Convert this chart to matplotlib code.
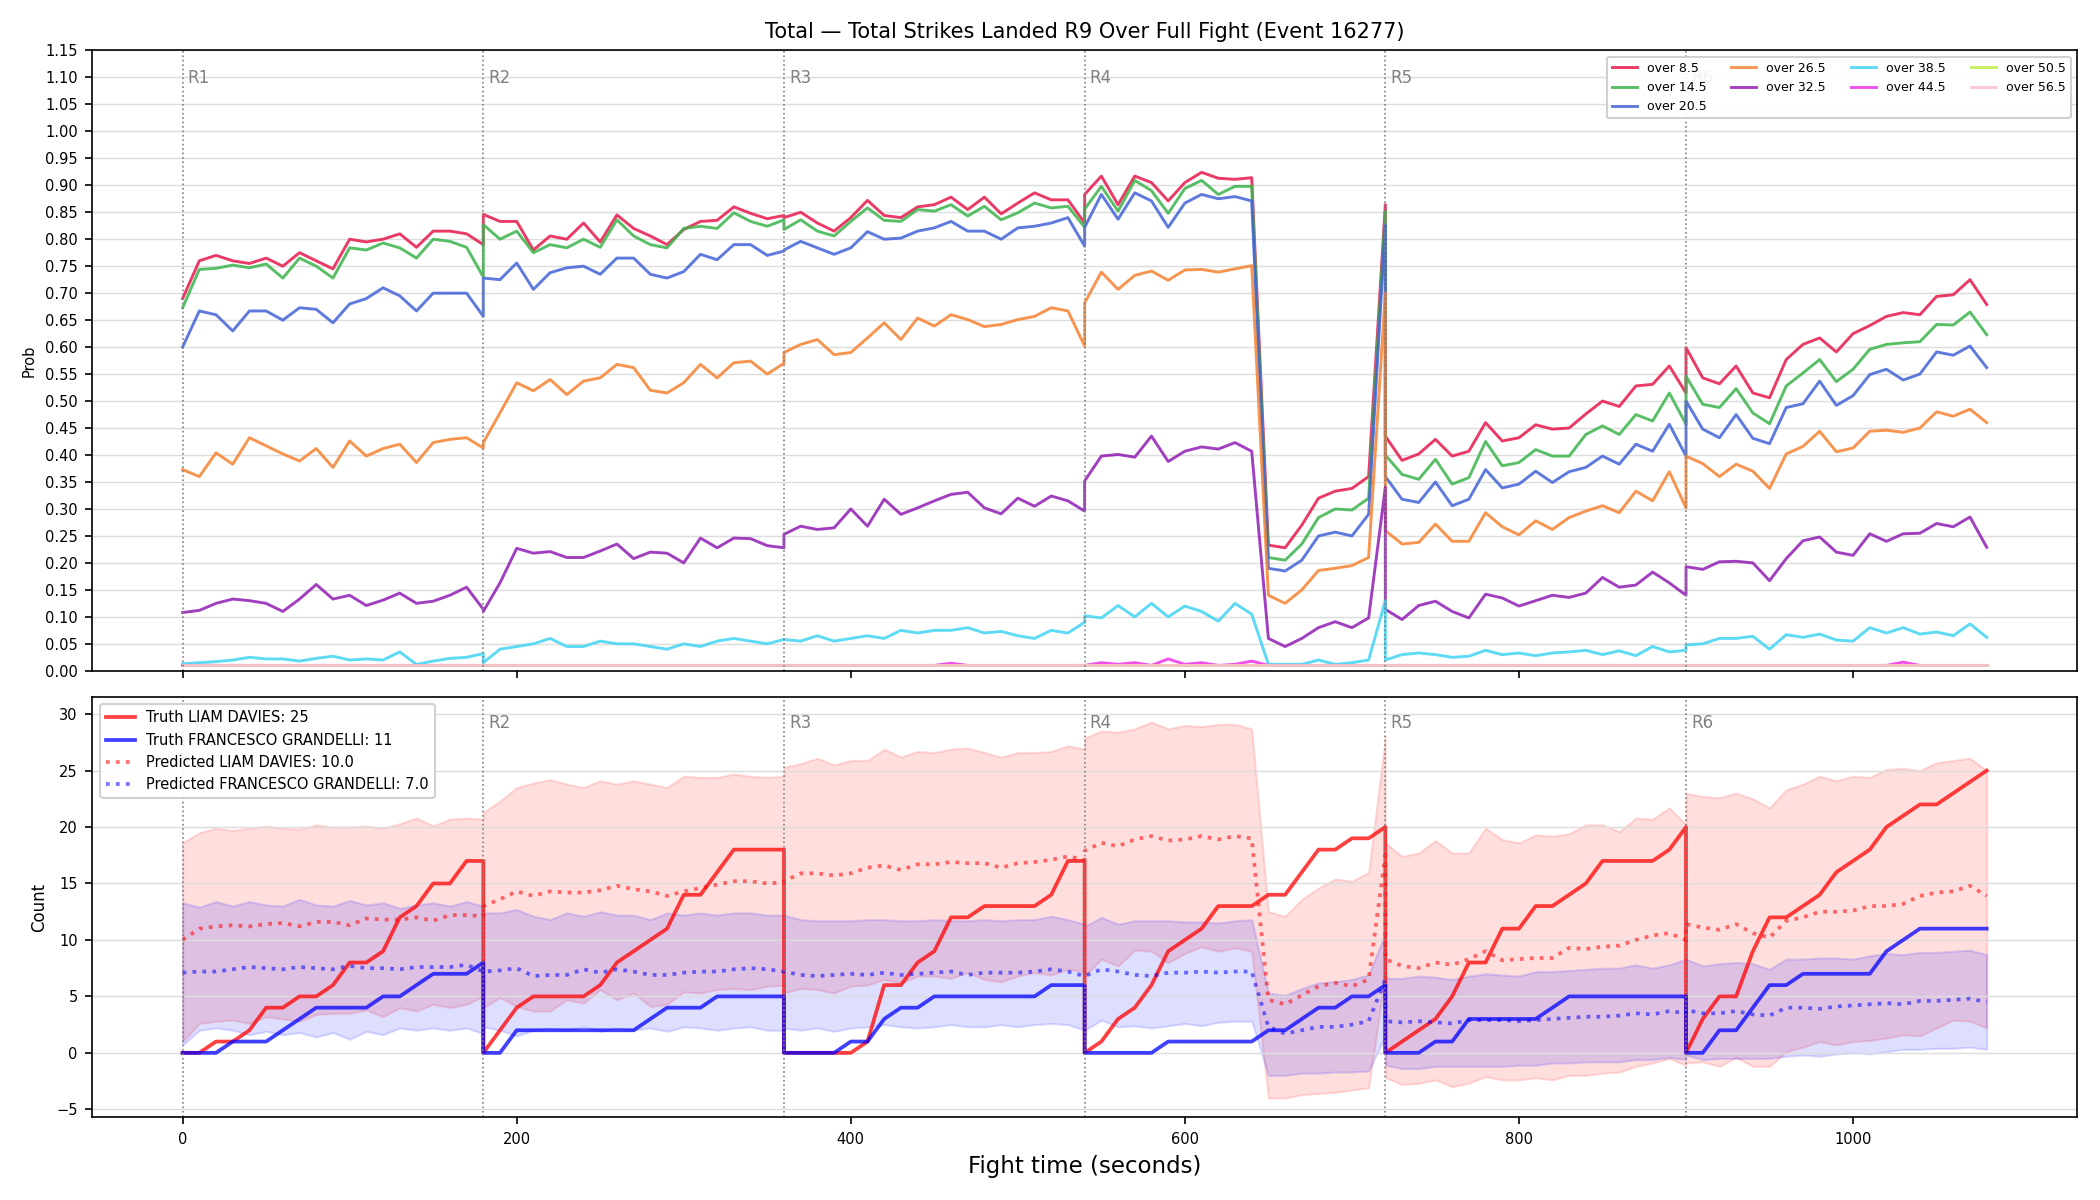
import matplotlib
matplotlib.use("Agg")
import matplotlib.pyplot as plt

# one row per round, samples every 10 s from round start to round end
over_8 = [
    [0.69, 0.76, 0.77, 0.76, 0.755, 0.765, 0.75, 0.775, 0.76, 0.745, 0.80, 0.795, 0.80, 0.81, 0.785, 0.815, 0.815, 0.81, 0.79],
    [0.846, 0.833, 0.833, 0.78, 0.806, 0.80, 0.83, 0.795, 0.845, 0.82, 0.806, 0.79, 0.818, 0.833, 0.835, 0.86, 0.848, 0.838, 0.844],
    [0.84, 0.85, 0.83, 0.815, 0.84, 0.872, 0.844, 0.84, 0.86, 0.864, 0.878, 0.855, 0.878, 0.847, 0.867, 0.886, 0.873, 0.873, 0.83],
    [0.883, 0.917, 0.864, 0.917, 0.905, 0.871, 0.905, 0.924, 0.913, 0.911, 0.914, 0.233, 0.228, 0.27, 0.32, 0.333, 0.338, 0.36, 0.864],
    [0.435, 0.39, 0.402, 0.429, 0.398, 0.407, 0.46, 0.426, 0.432, 0.456, 0.448, 0.45, 0.476, 0.50, 0.49, 0.528, 0.531, 0.565, 0.515],
    [0.599, 0.543, 0.532, 0.565, 0.515, 0.506, 0.577, 0.605, 0.617, 0.591, 0.625, 0.64, 0.657, 0.664, 0.66, 0.694, 0.697, 0.725, 0.679],
]
over_14 = [
    [0.673, 0.744, 0.746, 0.752, 0.747, 0.754, 0.728, 0.765, 0.75, 0.728, 0.784, 0.78, 0.793, 0.784, 0.765, 0.80, 0.796, 0.785, 0.73],
    [0.827, 0.80, 0.815, 0.775, 0.79, 0.784, 0.80, 0.785, 0.836, 0.806, 0.79, 0.784, 0.82, 0.824, 0.82, 0.849, 0.833, 0.824, 0.836],
    [0.818, 0.836, 0.815, 0.806, 0.833, 0.858, 0.835, 0.833, 0.855, 0.852, 0.864, 0.843, 0.861, 0.836, 0.849, 0.867, 0.858, 0.861, 0.822],
    [0.856, 0.898, 0.852, 0.909, 0.89, 0.848, 0.894, 0.909, 0.883, 0.898, 0.898, 0.21, 0.205, 0.235, 0.284, 0.30, 0.298, 0.32, 0.852],
    [0.40, 0.364, 0.355, 0.392, 0.346, 0.358, 0.425, 0.38, 0.386, 0.41, 0.398, 0.398, 0.438, 0.454, 0.438, 0.475, 0.463, 0.515, 0.457],
    [0.546, 0.494, 0.488, 0.523, 0.478, 0.458, 0.528, 0.552, 0.577, 0.536, 0.559, 0.596, 0.605, 0.608, 0.61, 0.642, 0.641, 0.665, 0.623],
]
over_20 = [
    [0.60, 0.667, 0.66, 0.63, 0.667, 0.667, 0.65, 0.673, 0.67, 0.645, 0.68, 0.69, 0.71, 0.695, 0.667, 0.70, 0.70, 0.70, 0.657],
    [0.728, 0.725, 0.756, 0.707, 0.738, 0.747, 0.75, 0.735, 0.765, 0.765, 0.735, 0.728, 0.74, 0.772, 0.762, 0.79, 0.79, 0.77, 0.778],
    [0.78, 0.796, 0.784, 0.772, 0.784, 0.814, 0.80, 0.802, 0.815, 0.821, 0.833, 0.815, 0.815, 0.80, 0.821, 0.824, 0.83, 0.84, 0.787],
    [0.822, 0.883, 0.837, 0.886, 0.871, 0.822, 0.867, 0.883, 0.875, 0.879, 0.871, 0.19, 0.185, 0.205, 0.25, 0.257, 0.25, 0.29, 0.827],
    [0.36, 0.318, 0.312, 0.35, 0.306, 0.318, 0.373, 0.339, 0.346, 0.37, 0.349, 0.369, 0.377, 0.398, 0.383, 0.42, 0.407, 0.457, 0.398],
    [0.50, 0.448, 0.432, 0.475, 0.431, 0.421, 0.488, 0.495, 0.537, 0.492, 0.51, 0.549, 0.559, 0.539, 0.55, 0.591, 0.585, 0.602, 0.562],
]
over_26 = [
    [0.373, 0.36, 0.404, 0.383, 0.432, 0.417, 0.402, 0.389, 0.412, 0.377, 0.426, 0.398, 0.412, 0.42, 0.386, 0.423, 0.429, 0.432, 0.413],
    [0.423, 0.478, 0.534, 0.519, 0.54, 0.512, 0.537, 0.543, 0.568, 0.562, 0.52, 0.515, 0.534, 0.568, 0.543, 0.571, 0.574, 0.55, 0.57],
    [0.59, 0.605, 0.614, 0.586, 0.59, 0.617, 0.645, 0.614, 0.654, 0.639, 0.66, 0.651, 0.638, 0.642, 0.651, 0.657, 0.673, 0.667, 0.602],
    [0.682, 0.739, 0.707, 0.733, 0.741, 0.724, 0.743, 0.744, 0.739, 0.745, 0.751, 0.14, 0.125, 0.15, 0.186, 0.19, 0.195, 0.21, 0.70],
    [0.26, 0.235, 0.238, 0.272, 0.24, 0.24, 0.293, 0.267, 0.252, 0.278, 0.262, 0.284, 0.296, 0.306, 0.293, 0.333, 0.315, 0.369, 0.302],
    [0.398, 0.384, 0.36, 0.383, 0.37, 0.338, 0.402, 0.416, 0.444, 0.406, 0.413, 0.444, 0.446, 0.442, 0.45, 0.48, 0.472, 0.485, 0.46],
]
over_32 = [
    [0.108, 0.112, 0.125, 0.133, 0.13, 0.125, 0.11, 0.133, 0.16, 0.133, 0.14, 0.121, 0.131, 0.144, 0.125, 0.129, 0.14, 0.155, 0.114],
    [0.11, 0.163, 0.227, 0.218, 0.221, 0.21, 0.21, 0.222, 0.235, 0.208, 0.22, 0.218, 0.20, 0.246, 0.228, 0.246, 0.245, 0.232, 0.228],
    [0.253, 0.268, 0.262, 0.265, 0.30, 0.268, 0.318, 0.29, 0.302, 0.315, 0.327, 0.331, 0.302, 0.291, 0.32, 0.305, 0.324, 0.315, 0.296],
    [0.352, 0.398, 0.401, 0.396, 0.435, 0.388, 0.407, 0.415, 0.411, 0.423, 0.407, 0.06, 0.045, 0.06, 0.08, 0.091, 0.08, 0.098, 0.34],
    [0.114, 0.095, 0.121, 0.129, 0.11, 0.098, 0.142, 0.135, 0.12, 0.13, 0.14, 0.136, 0.144, 0.173, 0.155, 0.159, 0.183, 0.163, 0.14],
    [0.193, 0.188, 0.202, 0.203, 0.20, 0.167, 0.208, 0.241, 0.248, 0.22, 0.214, 0.254, 0.24, 0.254, 0.255, 0.273, 0.267, 0.285, 0.229],
]
over_38 = [
    [0.013, 0.015, 0.017, 0.02, 0.025, 0.022, 0.022, 0.018, 0.023, 0.027, 0.02, 0.022, 0.02, 0.035, 0.012, 0.018, 0.023, 0.025, 0.032],
    [0.015, 0.04, 0.045, 0.05, 0.06, 0.045, 0.045, 0.055, 0.05, 0.05, 0.045, 0.04, 0.05, 0.045, 0.055, 0.06, 0.055, 0.05, 0.058],
    [0.058, 0.055, 0.065, 0.055, 0.06, 0.065, 0.06, 0.075, 0.07, 0.075, 0.075, 0.08, 0.07, 0.073, 0.065, 0.06, 0.075, 0.07, 0.09],
    [0.102, 0.098, 0.121, 0.10, 0.125, 0.10, 0.12, 0.11, 0.092, 0.125, 0.105, 0.012, 0.012, 0.012, 0.02, 0.012, 0.015, 0.02, 0.13],
    [0.02, 0.03, 0.033, 0.03, 0.025, 0.027, 0.038, 0.03, 0.033, 0.028, 0.033, 0.035, 0.038, 0.03, 0.037, 0.028, 0.045, 0.035, 0.038],
    [0.048, 0.05, 0.06, 0.06, 0.064, 0.04, 0.067, 0.062, 0.068, 0.057, 0.055, 0.08, 0.07, 0.08, 0.068, 0.072, 0.065, 0.087, 0.062],
]
over_44 = [
    [0.01, 0.01, 0.01, 0.01, 0.01, 0.01, 0.01, 0.01, 0.01, 0.01, 0.01, 0.01, 0.01, 0.01, 0.01, 0.01, 0.01, 0.01, 0.01],
    [0.01, 0.01, 0.01, 0.01, 0.01, 0.01, 0.01, 0.01, 0.01, 0.01, 0.01, 0.01, 0.01, 0.01, 0.01, 0.01, 0.01, 0.01, 0.01],
    [0.01, 0.01, 0.01, 0.01, 0.01, 0.01, 0.01, 0.01, 0.01, 0.01, 0.014, 0.01, 0.01, 0.01, 0.01, 0.01, 0.01, 0.01, 0.01],
    [0.01, 0.015, 0.012, 0.015, 0.01, 0.022, 0.012, 0.015, 0.01, 0.012, 0.018, 0.01, 0.01, 0.01, 0.01, 0.01, 0.01, 0.01, 0.01],
    [0.01, 0.01, 0.01, 0.01, 0.01, 0.01, 0.01, 0.01, 0.01, 0.01, 0.01, 0.01, 0.01, 0.01, 0.01, 0.01, 0.01, 0.01, 0.01],
    [0.01, 0.01, 0.01, 0.01, 0.01, 0.01, 0.01, 0.01, 0.01, 0.01, 0.01, 0.01, 0.01, 0.016, 0.01, 0.01, 0.01, 0.01, 0.01],
]
over_50 = [[0.01] * 19 for r in range(6)]
over_56 = [[0.01] * 19 for r in range(6)]

truth_liam = [
    [0, 0, 1, 1, 2, 4, 4, 5, 5, 6, 8, 8, 9, 12, 13, 15, 15, 17, 17],
    [0, 2, 4, 5, 5, 5, 5, 6, 8, 9, 10, 11, 14, 14, 16, 18, 18, 18, 18],
    [0, 0, 0, 0, 0, 1, 6, 6, 8, 9, 12, 12, 13, 13, 13, 13, 14, 17, 17],
    [0, 1, 3, 4, 6, 9, 10, 11, 13, 13, 13, 14, 14, 16, 18, 18, 19, 19, 20],
    [0, 1, 2, 3, 5, 8, 8, 11, 11, 13, 13, 14, 15, 17, 17, 17, 17, 18, 20],
    [0, 3, 5, 5, 9, 12, 12, 13, 14, 16, 17, 18, 20, 21, 22, 22, 23, 24, 25],
]
truth_fran = [
    [0, 0, 0, 1, 1, 1, 2, 3, 4, 4, 4, 4, 5, 5, 6, 7, 7, 7, 8],
    [0, 0, 2, 2, 2, 2, 2, 2, 2, 2, 3, 4, 4, 4, 5, 5, 5, 5, 5],
    [0, 0, 0, 0, 1, 1, 3, 4, 4, 5, 5, 5, 5, 5, 5, 5, 6, 6, 6],
    [0, 0, 0, 0, 0, 1, 1, 1, 1, 1, 1, 2, 2, 3, 4, 4, 5, 5, 6],
    [0, 0, 0, 1, 1, 3, 3, 3, 3, 3, 4, 5, 5, 5, 5, 5, 5, 5, 5],
    [0, 0, 2, 2, 4, 6, 6, 7, 7, 7, 7, 7, 9, 10, 11, 11, 11, 11, 11],
]
pred_liam = [
    [10.0, 11.0, 11.2, 11.3, 11.2, 11.4, 11.5, 11.2, 11.6, 11.6, 11.3, 11.9, 11.8, 11.8, 12.0, 11.7, 12.2, 12.2, 12.1],
    [13.0, 13.6, 14.3, 13.9, 14.3, 14.2, 14.2, 14.4, 14.8, 14.5, 14.3, 13.9, 14.3, 14.6, 14.9, 15.2, 15.2, 15.0, 15.1],
    [15.2, 15.9, 15.9, 15.7, 15.9, 16.4, 16.6, 16.2, 16.7, 16.7, 16.9, 16.8, 16.8, 16.4, 16.8, 16.9, 17.1, 17.4, 17.1],
    [17.9, 18.6, 18.3, 18.9, 19.2, 18.8, 18.9, 19.2, 18.9, 19.2, 19.0, 4.7, 4.3, 5.1, 5.9, 6.2, 5.9, 6.5, 17.5],
    [8.3, 7.7, 7.5, 8.0, 7.8, 8.3, 9.0, 8.2, 8.3, 8.4, 8.4, 9.3, 9.2, 9.4, 9.5, 10.0, 10.4, 10.6, 10.0],
    [11.4, 11.1, 10.9, 11.4, 10.6, 10.2, 11.7, 12.0, 12.5, 12.5, 12.6, 13.0, 13.0, 13.2, 13.9, 14.2, 14.3, 14.8, 13.9],
]
liam_hi = [
    [18.6, 19.5, 19.9, 19.7, 19.9, 20.1, 19.9, 19.8, 20.2, 20.0, 20.0, 20.1, 19.9, 20.3, 20.8, 20.1, 20.7, 20.8, 20.7],
    [21.3, 22.3, 23.5, 23.9, 24.2, 23.8, 23.5, 24.1, 23.8, 24.1, 23.8, 23.5, 24.5, 24.4, 24.4, 24.7, 24.5, 24.4, 24.5],
    [25.3, 25.6, 26.1, 25.5, 25.9, 25.9, 26.9, 26.2, 26.7, 26.6, 26.9, 27.0, 26.6, 26.2, 26.6, 26.6, 26.7, 27.2, 26.9],
    [27.9, 28.5, 28.4, 28.7, 29.3, 28.7, 29.0, 28.9, 29.1, 29.1, 28.7, 12.5, 12.1, 13.6, 14.6, 15.4, 15.2, 16.0, 28.0],
    [18.6, 17.4, 17.7, 18.8, 17.7, 17.7, 19.9, 18.9, 18.6, 19.3, 19.2, 19.4, 20.2, 20.2, 19.6, 20.8, 20.7, 21.7, 20.2],
    [23.0, 22.7, 22.6, 23.0, 22.5, 21.7, 23.3, 23.8, 24.5, 24.1, 24.5, 24.4, 25.1, 25.2, 25.0, 25.7, 25.9, 26.1, 25.0],
]
liam_lo = [
    [1.0, 2.6, 2.8, 2.9, 2.6, 3.2, 3.0, 2.8, 3.4, 3.5, 3.5, 3.8, 3.2, 4.0, 3.7, 4.3, 4.0, 4.3, 5.0],
    [4.0, 4.9, 4.1, 3.7, 3.7, 4.7, 4.4, 5.6, 4.7, 5.3, 4.1, 4.3, 5.4, 5.3, 5.6, 5.7, 5.6, 5.9, 6.0],
    [5.3, 5.7, 5.6, 5.3, 5.9, 6.0, 6.5, 6.2, 6.8, 6.8, 6.6, 7.1, 6.5, 6.3, 6.8, 7.1, 6.9, 7.4, 7.2],
    [6.8, 8.3, 7.7, 9.1, 9.0, 8.0, 8.8, 9.4, 9.0, 9.3, 9.0, -4.0, -4.0, -3.7, -3.6, -3.5, -3.3, -3.1, 7.0],
    [-2.2, -2.8, -2.7, -2.4, -3.0, -2.7, -2.1, -2.4, -2.4, -2.2, -2.4, -2.0, -2.0, -1.8, -1.7, -1.2, -0.9, -0.5, -1.1],
    [-0.9, -0.8, -1.2, -0.4, -1.2, -1.2, 0.1, 0.5, 1.0, 0.7, 1.0, 1.1, 1.3, 1.6, 1.5, 2.2, 2.9, 2.8, 2.2],
]
pred_fran = [
    [7.1, 7.2, 7.2, 7.4, 7.6, 7.5, 7.4, 7.6, 7.5, 7.4, 7.7, 7.5, 7.5, 7.4, 7.6, 7.6, 7.6, 7.8, 7.2],
    [7.2, 7.3, 7.5, 6.8, 6.9, 6.9, 7.4, 7.1, 7.4, 7.2, 6.9, 6.9, 7.1, 7.2, 7.2, 7.4, 7.5, 7.4, 7.2],
    [7.2, 6.9, 6.8, 6.9, 7.0, 6.9, 7.1, 6.9, 7.0, 7.1, 7.2, 6.9, 7.1, 7.1, 7.1, 7.2, 7.4, 7.2, 6.8],
    [6.8, 7.4, 7.2, 6.9, 6.8, 7.1, 7.1, 7.2, 7.1, 7.2, 7.2, 2.3, 1.7, 2.0, 2.3, 2.3, 2.5, 2.8, 6.5],
    [2.8, 2.7, 2.8, 2.7, 2.6, 2.9, 2.9, 2.9, 2.8, 2.9, 3.0, 3.1, 3.2, 3.2, 3.3, 3.5, 3.4, 3.7, 3.5],
    [3.8, 3.5, 3.5, 3.7, 3.4, 3.3, 4.0, 4.0, 3.9, 4.1, 4.2, 4.3, 4.4, 4.3, 4.6, 4.6, 4.7, 4.8, 4.5],
]
fran_hi = [
    [13.3, 12.9, 13.4, 13.0, 13.4, 13.1, 13.0, 13.6, 13.1, 13.0, 13.5, 13.1, 13.3, 12.8, 13.1, 13.3, 13.0, 13.4, 13.0],
    [12.4, 12.4, 12.7, 12.1, 11.8, 12.4, 12.1, 12.5, 12.2, 12.2, 11.8, 12.4, 12.2, 12.4, 12.2, 12.4, 12.4, 12.2, 12.2],
    [12.2, 11.8, 11.7, 11.7, 11.7, 11.8, 11.8, 11.7, 11.7, 11.8, 11.7, 11.7, 11.8, 11.7, 11.8, 11.8, 12.1, 11.8, 11.4],
    [11.2, 12.0, 11.4, 11.7, 11.7, 11.7, 11.6, 11.6, 11.5, 11.7, 11.8, 5.3, 5.1, 5.7, 6.2, 6.3, 6.5, 6.9, 10.6],
    [6.6, 6.6, 6.8, 6.7, 6.5, 6.8, 7.0, 6.9, 6.8, 7.2, 7.2, 7.3, 7.4, 7.5, 7.5, 7.8, 7.5, 7.8, 8.3],
    [8.3, 7.7, 7.9, 8.0, 7.9, 7.4, 8.3, 8.3, 8.4, 8.4, 8.3, 8.6, 8.8, 8.7, 8.9, 8.9, 9.0, 9.1, 8.7],
]
fran_lo = [
    [0.7, 2.0, 2.2, 2.0, 1.6, 1.9, 1.6, 1.8, 1.4, 1.8, 1.2, 1.9, 1.6, 2.2, 2.0, 2.2, 2.0, 2.2, 1.7],
    [2.3, 2.0, 1.5, 2.0, 2.2, 2.0, 2.3, 1.9, 2.2, 2.0, 2.2, 1.9, 2.3, 2.2, 2.0, 2.2, 2.3, 2.0, 2.0],
    [2.2, 2.0, 2.2, 1.9, 2.2, 2.3, 2.5, 2.3, 2.2, 2.3, 2.5, 2.3, 2.3, 2.5, 2.3, 2.5, 2.6, 2.5, 2.0],
    [2.0, 2.9, 2.3, 2.4, 2.2, 2.4, 2.6, 2.4, 2.7, 2.8, 2.8, -2.0, -2.0, -1.8, -1.8, -1.7, -1.7, -1.6, 1.5],
    [-1.1, -1.4, -1.4, -1.2, -1.2, -1.2, -1.2, -1.2, -1.1, -1.1, -0.9, -0.9, -0.8, -0.8, -0.8, -0.6, -0.6, -0.4, -0.6],
    [-0.2, -0.6, -0.5, -0.5, -0.5, -0.5, -0.3, -0.2, -0.3, -0.1, 0.0, -0.1, 0.1, 0.3, 0.3, 0.4, 0.4, 0.5, 0.3],
]

round_starts = [0, 180, 360, 540, 720, 900]
round_names = ["R1", "R2", "R3", "R4", "R5", "R6"]
thresholds = ["over 8.5", "over 14.5", "over 20.5", "over 26.5", "over 32.5",
              "over 38.5", "over 44.5", "over 50.5", "over 56.5"]
colors = ["#e6194b", "#3cb44b", "#4363d8", "#f58231", "#911eb4",
          "#42d4f4", "#f032e6", "#bfef45", "#fabed4"]


def flat(rows):
    return [v for row in rows for v in row]


t = [s + 10 * k for s in round_starts for k in range(19)]

fig = plt.figure(figsize=(14, 8), dpi=150)
ax1 = fig.add_axes([0.044, 0.441, 0.945, 0.517])
ax2 = fig.add_axes([0.044, 0.069, 0.945, 0.350], sharex=ax1)

# top: threshold probabilities
series = [over_8, over_14, over_20, over_26, over_32, over_38, over_44, over_50, over_56]
for rows, lab, c in zip(series, thresholds, colors):
    ax1.plot(t, flat(rows), color=c, lw=1.4, alpha=0.85, label=lab)

ax1.set_ylim(0, 1.15)
ax1.set_yticks([i * 0.05 for i in range(24)])
ax1.set_yticklabels(["%.2f" % (i * 0.05) for i in range(24)])
ax1.set_ylabel("Prob", fontsize=7)
ax1.set_title("Total \u2014 Total Strikes Landed R9 Over Full Fight (Event 16277)", fontsize=10)
ax1.tick_params(labelsize=7, labelbottom=False)
ax1.grid(axis="y", color="#dddddd", lw=0.7)
for s, n in zip(round_starts, round_names):
    ax1.axvline(s, color="gray", ls=":", lw=0.8)
    ax1.text(s + 3, 1.09, n, color="gray", fontsize=8)
ax1.legend(loc="upper right", ncol=4, fontsize=6, framealpha=0.9)

# bottom: counts
lt, ft = flat(truth_liam), flat(truth_fran)
ax2.fill_between(t, flat(liam_lo), flat(liam_hi), color="red", alpha=0.13)
ax2.fill_between(t, flat(fran_lo), flat(fran_hi), color="blue", alpha=0.13)
ax2.plot(t, lt, color="red", lw=1.8, alpha=0.75, label="Truth LIAM DAVIES: %d" % lt[-1])
ax2.plot(t, ft, color="blue", lw=1.8, alpha=0.75, label="Truth FRANCESCO GRANDELLI: %d" % ft[-1])
ax2.plot(t, flat(pred_liam), color="red", ls=":", lw=1.8, alpha=0.55,
         label="Predicted LIAM DAVIES: %.1f" % pred_liam[0][0])
ax2.plot(t, flat(pred_fran), color="blue", ls=":", lw=1.8, alpha=0.55,
         label="Predicted FRANCESCO GRANDELLI: %.1f" % 7.0)

ax2.set_ylim(-5.7, 31.5)
ax2.set_yticks([-5, 0, 5, 10, 15, 20, 25, 30])
ax2.set_ylabel("Count", fontsize=8)
ax2.set_xlabel("Fight time (seconds)", fontsize=11)
ax2.tick_params(labelsize=7)
ax2.grid(axis="y", color="#dddddd", lw=0.7)
for s, n in zip(round_starts, round_names):
    ax2.axvline(s, color="gray", ls=":", lw=0.8)
    ax2.text(s + 3, 28.8, n, color="gray", fontsize=8)
ax2.legend(loc="upper left", fontsize=7, framealpha=0.9)
ax2.set_xlim(-54, 1134)

fig.savefig("out.png", dpi=150)
